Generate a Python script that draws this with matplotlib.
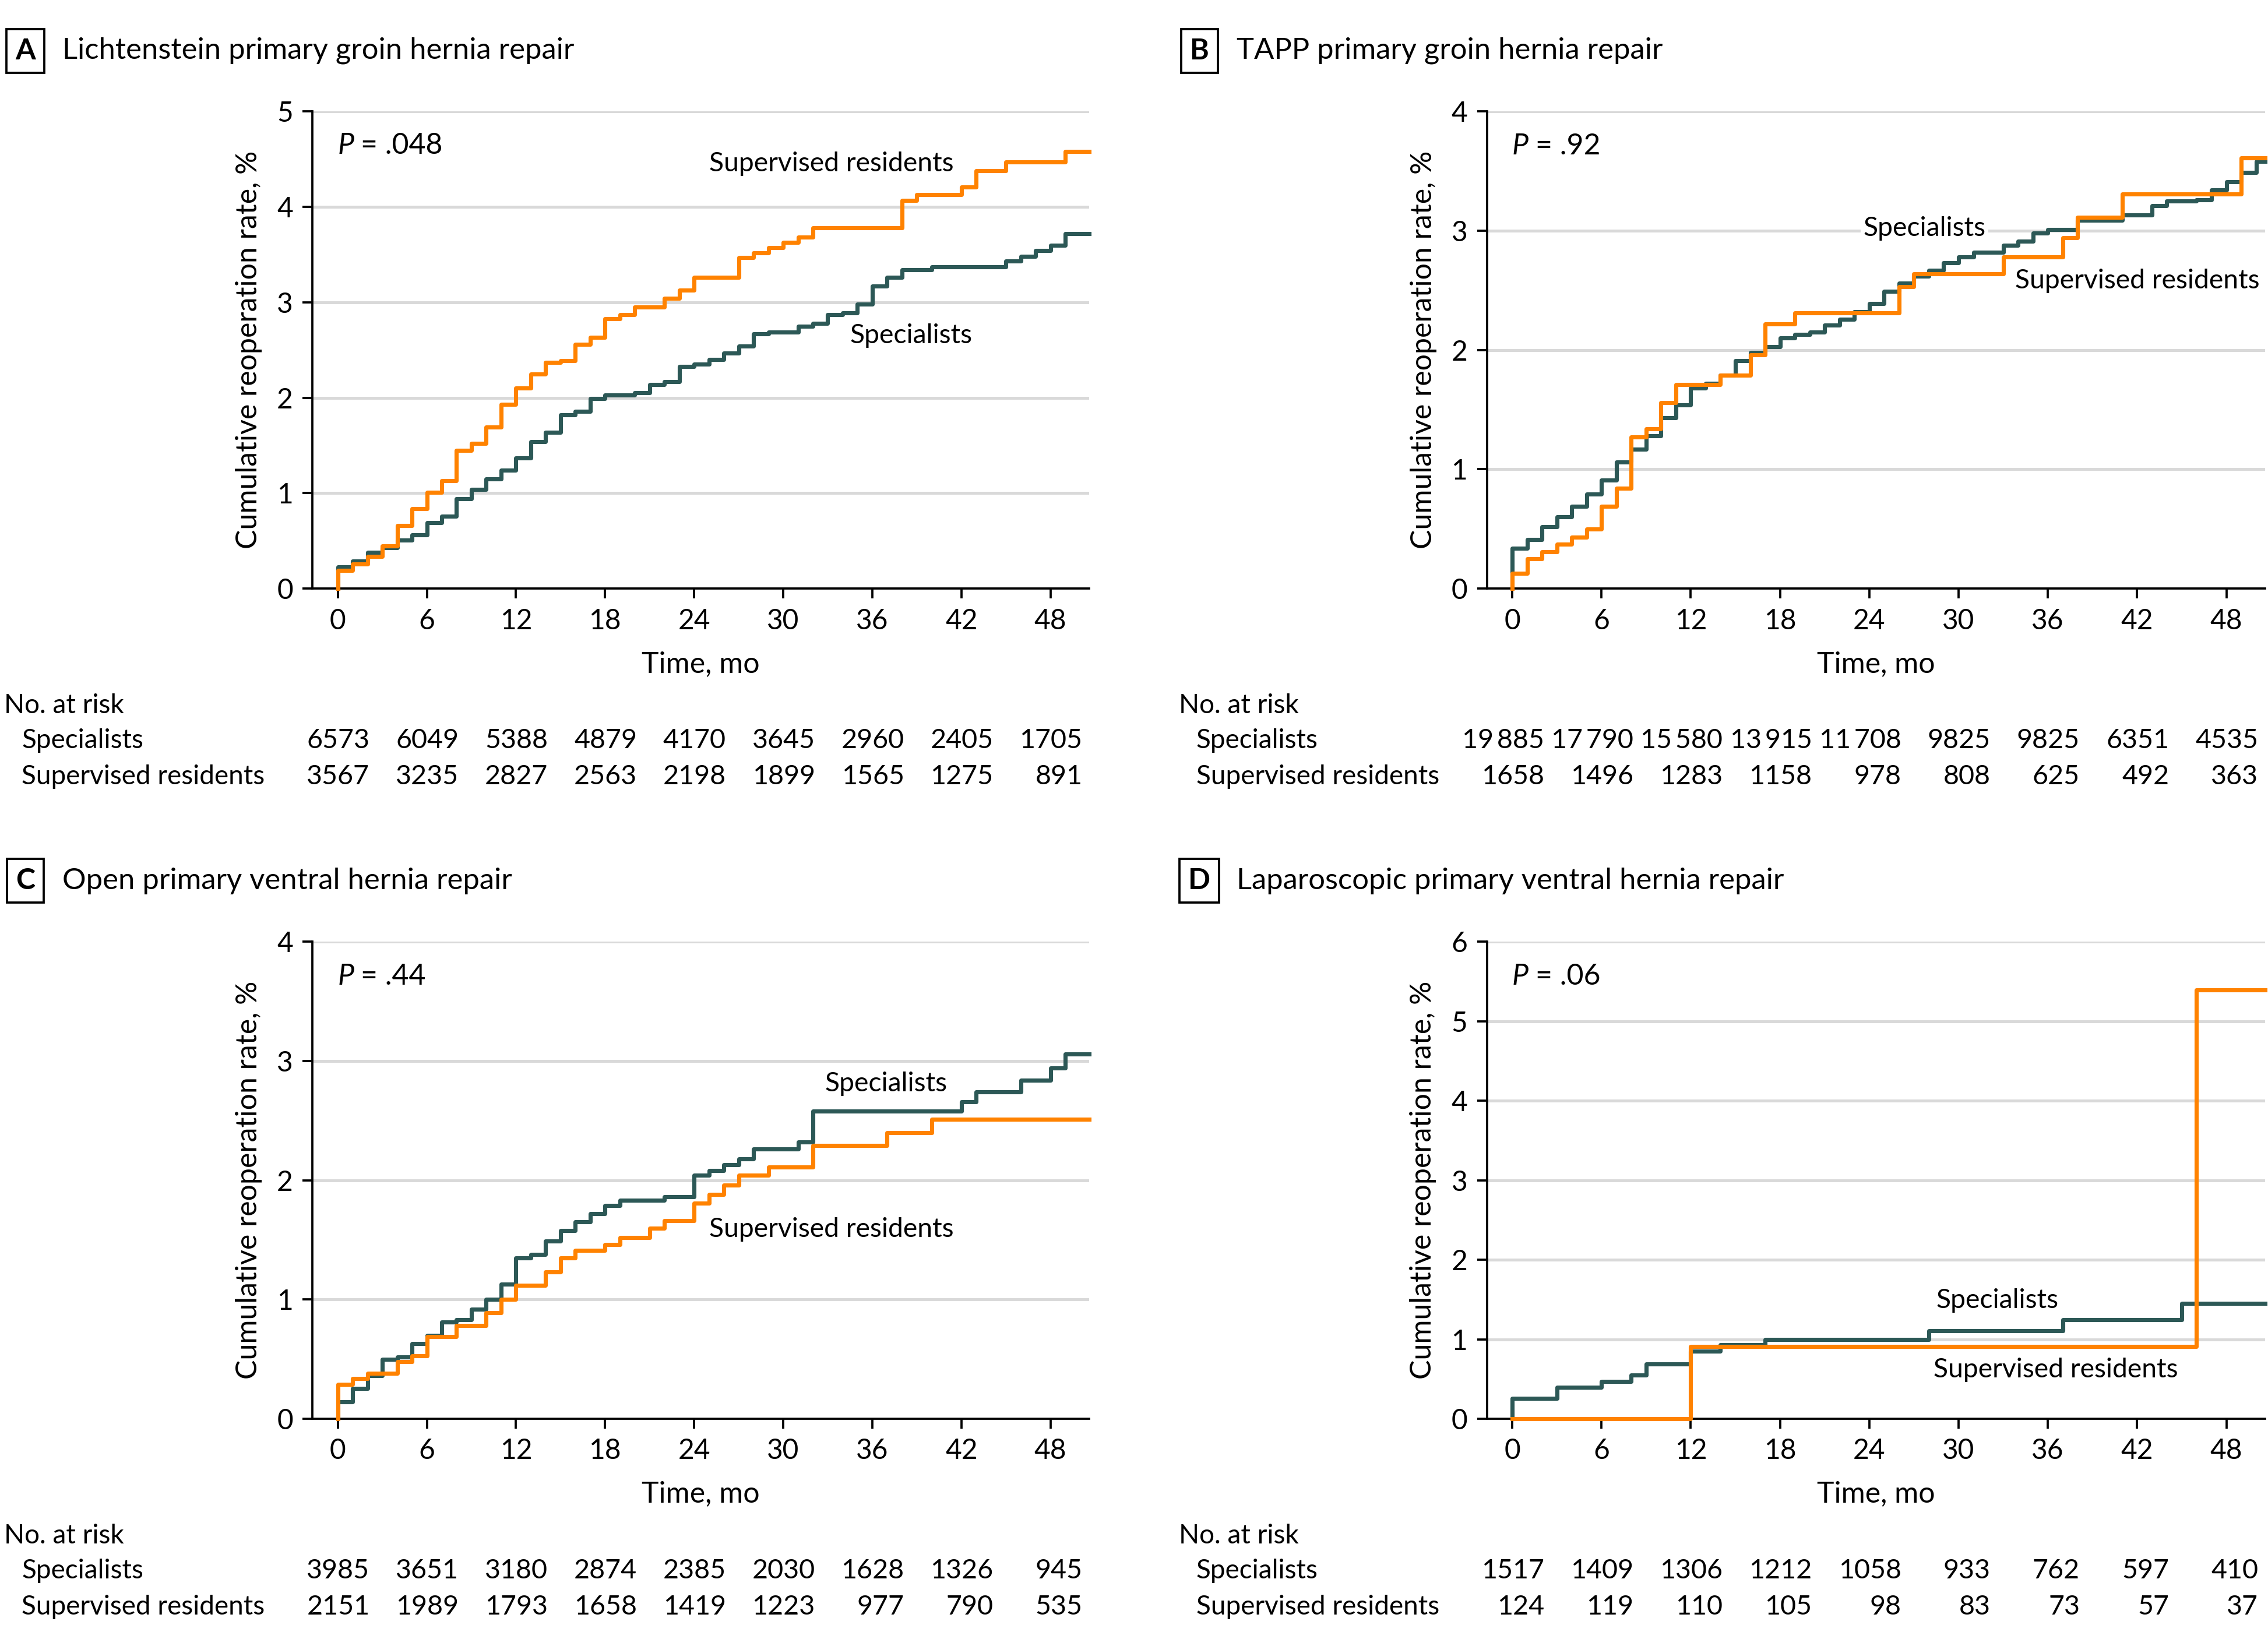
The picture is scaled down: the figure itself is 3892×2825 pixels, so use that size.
import matplotlib
matplotlib.use("Agg")
import matplotlib.pyplot as plt
from matplotlib.transforms import blended_transform_factory

plt.rcParams["font.family"] = ["Lato", "DejaVu Sans"]
plt.rcParams["font.size"] = 11

TEAL = "#2c5856"
ORANGE = "#ff8200"
GRID = "#d9d9d9"

months = [0, 6, 12, 18, 24, 30, 36, 42, 48]

# A: Lichtenstein primary groin hernia repair
a_spec_t = [0, 1, 2, 3, 4, 5, 6, 7, 8, 9, 10, 11, 12, 13, 14, 15, 16, 17, 18, 20, 21, 22, 23, 24,
            25, 26, 27, 28, 29, 31, 32, 33, 34, 35, 36, 37, 38, 40, 45, 46, 47, 48, 49, 50.6]
a_spec_v = [0.23, 0.29, 0.38, 0.43, 0.51, 0.56, 0.69, 0.76, 0.94, 1.04, 1.15, 1.24, 1.37, 1.54,
            1.64, 1.82, 1.86, 1.99, 2.03, 2.05, 2.14, 2.17, 2.33, 2.35, 2.40, 2.47, 2.54, 2.67,
            2.69, 2.75, 2.78, 2.87, 2.89, 2.98, 3.17, 3.26, 3.34, 3.37, 3.43, 3.48, 3.54, 3.60,
            3.72, 3.72]
a_res_t = [0, 1, 2, 3, 4, 5, 6, 7, 8, 9, 10, 11, 12, 13, 14, 15, 16, 17, 18, 19, 20, 22, 23, 24,
           27, 28, 29, 30, 31, 32, 38, 39, 42, 43, 45, 49, 50.6]
a_res_v = [0.19, 0.26, 0.34, 0.45, 0.66, 0.84, 1.01, 1.13, 1.45, 1.52, 1.69, 1.93, 2.10, 2.25,
           2.37, 2.39, 2.56, 2.63, 2.83, 2.87, 2.95, 3.04, 3.13, 3.26, 3.47, 3.52, 3.57, 3.63,
           3.68, 3.78, 4.07, 4.13, 4.21, 4.38, 4.47, 4.58, 4.58]
a_risk_spec = ["6573", "6049", "5388", "4879", "4170", "3645", "2960", "2405", "1705"]
a_risk_res = ["3567", "3235", "2827", "2563", "2198", "1899", "1565", "1275", "891"]

# B: TAPP primary groin hernia repair
b_spec_t = [0, 1, 2, 3, 4, 5, 6, 7, 8, 9, 10, 11, 12, 13, 14, 15, 16, 17, 18, 19, 20, 21, 22, 23,
            24, 25, 26, 27, 28, 29, 30, 31, 33, 34, 35, 36, 38, 41, 43, 44, 46, 47, 48, 49, 50, 50.6]
b_spec_v = [0.34, 0.41, 0.52, 0.60, 0.69, 0.79, 0.91, 1.06, 1.17, 1.28, 1.43, 1.54, 1.68, 1.72,
            1.79, 1.91, 1.98, 2.03, 2.10, 2.13, 2.15, 2.21, 2.26, 2.32, 2.39, 2.49, 2.56, 2.62,
            2.67, 2.73, 2.78, 2.82, 2.88, 2.91, 2.98, 3.01, 3.09, 3.13, 3.21, 3.25, 3.26, 3.34,
            3.41, 3.49, 3.58, 3.58]
b_res_t = [0, 1, 2, 3, 4, 5, 6, 7, 8, 9, 10, 11, 14, 16, 17, 19, 26, 27, 33, 37, 38, 41, 49, 50.6]
b_res_v = [0.13, 0.25, 0.31, 0.37, 0.43, 0.50, 0.69, 0.84, 1.27, 1.34, 1.56, 1.71, 1.79, 1.96,
           2.22, 2.31, 2.53, 2.64, 2.78, 2.94, 3.11, 3.31, 3.61, 3.61]
b_risk_spec = ["19\u2009885", "17\u2009790", "15\u2009580", "13\u2009915", "11\u2009708",
               "9825", "9825", "6351", "4535"]
b_risk_res = ["1658", "1496", "1283", "1158", "978", "808", "625", "492", "363"]

# C: Open primary ventral hernia repair
c_spec_t = [0, 1, 2, 3, 4, 5, 6, 7, 8, 9, 10, 11, 12, 13, 14, 15, 16, 17, 18, 19, 22, 24, 25, 26,
            27, 28, 31, 32, 42, 43, 46, 48, 49, 50.6]
c_spec_v = [0.14, 0.255, 0.36, 0.50, 0.52, 0.63, 0.70, 0.81, 0.83, 0.92, 1.00, 1.13, 1.35, 1.38,
            1.49, 1.58, 1.65, 1.72, 1.79, 1.83, 1.86, 2.04, 2.08, 2.13, 2.18, 2.26, 2.32, 2.58,
            2.66, 2.74, 2.84, 2.94, 3.06, 3.06]
c_res_t = [0, 1, 2, 4, 5, 6, 8, 10, 11, 12, 14, 15, 16, 18, 19, 21, 22, 24, 25, 26, 27, 29, 32,
           37, 40, 50.6]
c_res_v = [0.29, 0.34, 0.38, 0.48, 0.53, 0.69, 0.78, 0.89, 1.00, 1.12, 1.23, 1.35, 1.41, 1.46,
           1.52, 1.60, 1.66, 1.81, 1.88, 1.96, 2.04, 2.11, 2.29, 2.40, 2.51, 2.51]
c_risk_spec = ["3985", "3651", "3180", "2874", "2385", "2030", "1628", "1326", "945"]
c_risk_res = ["2151", "1989", "1793", "1658", "1419", "1223", "977", "790", "535"]

# D: Laparoscopic primary ventral hernia repair
d_spec_t = [0, 3, 6, 8, 9, 12, 14, 17, 28, 37, 45, 50.6]
d_spec_v = [0.26, 0.40, 0.47, 0.55, 0.69, 0.85, 0.93, 1.00, 1.11, 1.25, 1.45, 1.45]
d_res_t = [0, 12, 46, 50.6]
d_res_v = [0.0, 0.91, 5.39, 5.39]
d_risk_spec = ["1517", "1409", "1306", "1212", "1058", "933", "762", "597", "410"]
d_risk_res = ["124", "119", "110", "105", "98", "83", "73", "57", "37"]

pval_txt = {"A": ".048", "B": ".92", "C": ".44", "D": ".06"}


def panel(fig, rect, letter, title, ymax, spec, res, pval, spec_lab, res_lab,
          risk_spec, risk_res, label_box=False):
    ax = fig.add_axes(rect)
    ax.set_xlim(-1.7, 50.6)
    ax.set_ylim(0, ymax)
    ax.set_xticks(months)
    ax.set_yticks(range(ymax + 1))
    for y in range(1, ymax + 1):
        ax.axhline(y, color=GRID, lw=1.2, zorder=0)
    ax.step([0] + spec[0], [0] + spec[1], where="post", color=TEAL, lw=1.7,
            clip_on=False, zorder=3)
    ax.step([0] + res[0], [0] + res[1], where="post", color=ORANGE, lw=1.7,
            clip_on=False, zorder=4)
    for s in ["top", "right"]:
        ax.spines[s].set_visible(False)
    for s in ["left", "bottom"]:
        ax.spines[s].set_linewidth(0.9)
    ax.tick_params(length=4, width=0.9, labelsize=11.5, pad=4)
    ax.set_xlabel("Time, mo", fontsize=12, labelpad=7)
    ax.set_ylabel("Cumulative reoperation rate, %", fontsize=12, labelpad=6)

    ax.text(0, pval, "P", fontsize=12, style="italic", va="center", ha="left")
    ax.text(1.55, pval, "= " + pval_txt[letter], fontsize=12, va="center", ha="left")
    bbox = dict(facecolor="white", edgecolor="none", pad=1) if label_box else None
    ax.text(spec_lab[0], spec_lab[1], "Specialists", fontsize=11.1, va="center",
            ha="left", bbox=bbox, zorder=5)
    ax.text(res_lab[0], res_lab[1], "Supervised residents", fontsize=11.1,
            va="center", ha="left", zorder=5)

    left, bottom, width, height = rect
    fig.text(left - 0.1267, bottom + height + 0.0369, letter, fontsize=12,
             fontweight="bold", ha="center", va="center",
             bbox=dict(facecolor="white", edgecolor="black", lw=0.9,
                       boxstyle="square,pad=0.3"))
    fig.text(left - 0.1104, bottom + height + 0.0369, title, fontsize=12.2,
             ha="left", va="center")

    tr = blended_transform_factory(ax.transData, fig.transFigure)
    y0 = bottom - 0.0712
    fig.text(left - 0.1359, y0, "No. at risk", fontsize=11, va="center")
    fig.text(left - 0.1282, y0 - 0.0211, "Specialists", fontsize=11, va="center")
    fig.text(left - 0.1282, y0 - 0.0431, "Supervised residents", fontsize=11,
             va="center")
    for m, n1, n2 in zip(months, risk_spec, risk_res):
        ax.text(m + 2.15, y0 - 0.0211, n1, transform=tr, fontsize=11.2,
                ha="right", va="center")
        ax.text(m + 2.15, y0 - 0.0431, n2, transform=tr, fontsize=11.2,
                ha="right", va="center")
    return ax


fig = plt.figure(figsize=(3892 / 300, 2825 / 300), dpi=300)

panel(fig, [0.1378, 0.6424, 0.3424, 0.2899], "A",
      "Lichtenstein primary groin hernia repair", 5,
      (a_spec_t, a_spec_v), (a_res_t, a_res_v), 4.64, (34.5, 2.65), (25.0, 4.45),
      a_risk_spec, a_risk_res)
panel(fig, [0.6556, 0.6424, 0.3431, 0.2899], "B",
      "TAPP primary groin hernia repair", 4,
      (b_spec_t, b_spec_v), (b_res_t, b_res_v), 3.71, (23.6, 3.02), (33.8, 2.58),
      b_risk_spec, b_risk_res, label_box=True)
panel(fig, [0.1378, 0.1380, 0.3424, 0.2899], "C",
      "Open primary ventral hernia repair", 4,
      (c_spec_t, c_spec_v), (c_res_t, c_res_v), 3.71, (32.8, 2.81), (25.0, 1.59),
      c_risk_spec, c_risk_res)
panel(fig, [0.6556, 0.1380, 0.3431, 0.2899], "D",
      "Laparoscopic primary ventral hernia repair", 6,
      (d_spec_t, d_spec_v), (d_res_t, d_res_v), 5.56, (28.5, 1.49), (28.3, 0.62),
      d_risk_spec, d_risk_res)

fig.savefig("out.png", dpi=300)
